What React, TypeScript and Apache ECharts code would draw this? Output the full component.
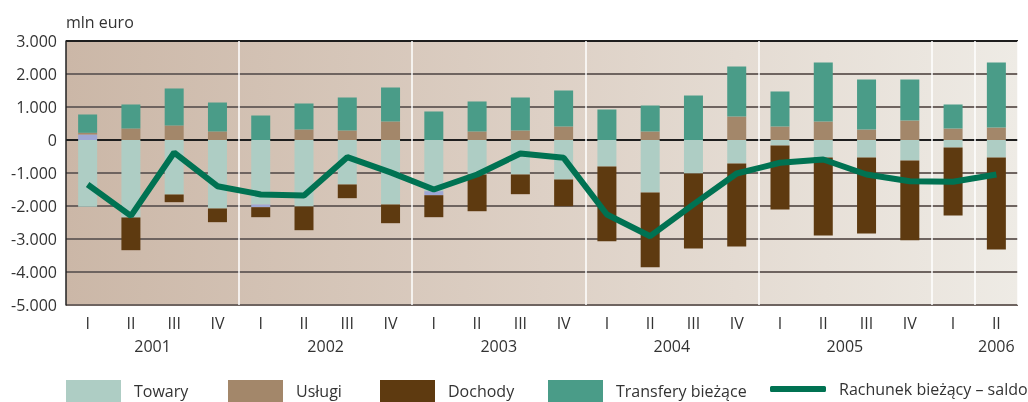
import React, { useEffect, useRef } from "react";
import * as echarts from "echarts";

const quarters = ["I", "II", "III", "IV", "I", "II", "III", "IV", "I", "II", "III", "IV", "I", "II", "III", "IV", "I", "II", "III", "IV", "I", "II"];
const years = ["2001", "2002", "2003", "2004", "2005", "2006"];
const yearPositions = [2, 6, 10, 14, 18, 21.5];
const yearSeparators = [4, 8, 12, 16, 20, 21];

const towary = [-2024, -2348, -1652, -2076, -1955, -2015, -1348, -1955, -1551, -1045, -1045, -1197, -803, -1591, -1015, -712, -167, -530, -530, -621, -227, -530];
const inne = [167, 0, 0, 0, -81, 0, 0, 0, -122, 0, 0, 0, 0, 0, 0, 0, 0, 0, 0, 0, 0, 0];
const uslugi = [51, 348, 439, 258, 0, 318, 288, 561, 0, 258, 288, 409, 0, 258, 0, 712, 409, 561, 318, 591, 348, 379];
const dochody = [0, -991, -232, -414, -303, -718, -415, -566, -666, -1113, -597, -809, -2264, -2264, -2273, -2515, -1939, -2364, -2303, -2415, -2061, -2788];
const transfery = [555, 728, 1122, 878, 742, 788, 1000, 1030, 864, 909, 1000, 1091, 924, 787, 1348, 1515, 1061, 1787, 1515, 1242, 728, 1969];
const saldo = [-1350, -2300, -380, -1400, -1650, -1680, -520, -980, -1500, -1045, -410, -540, -2258, -2915, -1950, -1015, -690, -590, -1045, -1250, -1267, -1045];

const legendNames = ["Towary", "Usługi", "Dochody", "Transfery bieżące", "Rachunek bieżący – saldo"];
const legendLefts = [66, 228, 380, 548, 770];

const FONT = "Open Sans";
const TXT = "#333333";

function fmt(v: number): string {
  const s = Math.abs(v).toString();
  const withDots = s.replace(/\B(?=(\d{3})+(?!\d))/g, ".");
  return (v < 0 ? "-" : "") + withDots;
}

export default function App() {
  const ref = useRef<HTMLDivElement>(null);
  useEffect(() => {
    if (!ref.current) return;
    const chart = echarts.init(ref.current, undefined, { renderer: "svg" });
    const barW = 19;
    chart.setOption({
      animation: false,
      textStyle: { fontFamily: FONT },
      grid: {
        left: 66,
        right: 10,
        top: 41,
        bottom: 97,
        show: true,
        borderWidth: 0,
        backgroundColor: new echarts.graphic.LinearGradient(0, 0, 1, 0, [
          { offset: 0, color: "#cbb7a7" },
          { offset: 0.5, color: "#ddd0c5" },
          { offset: 1, color: "#eeebe5" },
        ]),
      },
      legend: legendNames.map((n, i) => {
        const isLine = i === 4;
        return {
          left: legendLefts[i],
          top: isLine ? 381 : 380,
          itemWidth: isLine ? 56 : 55,
          itemHeight: isLine ? 6 : 22,
          padding: 0,
          textStyle: { fontSize: 16, color: TXT, fontFamily: FONT, padding: isLine ? [0, 0, 0, 8] : [0, 0, 5, 8] },
          data: [{ name: n, icon: isLine ? "roundRect" : "rect" }],
        };
      }),
      xAxis: [
        {
          type: "category",
          data: quarters,
          position: "bottom",
          axisLine: { show: false },
          axisTick: { show: false },
          axisLabel: { fontSize: 16, color: TXT, margin: 10, fontFamily: FONT },
          splitLine: {
            show: true,
            interval: (index: number) => yearSeparators.includes(index),
            lineStyle: { color: "#ffffff", width: 1.5 },
          },
        },
        {
          type: "value",
          min: 0,
          max: 22,
          position: "bottom",
          axisLine: { show: false },
          axisTick: { show: false },
          splitLine: { show: false },
          axisLabel: {
            customValues: yearPositions,
            fontSize: 16,
            color: TXT,
            margin: 33,
            fontFamily: FONT,
            formatter: (v: number) => {
              const i = yearPositions.indexOf(v);
              return i >= 0 ? years[i] : "";
            },
          },
        },
      ],
      yAxis: {
        type: "value",
        min: -5000,
        max: 3000,
        interval: 1000,
        name: "mln euro",
        nameLocation: "end",
        nameGap: 11,
        nameTextStyle: { align: "left", fontSize: 16, color: TXT, fontFamily: FONT, verticalAlign: "bottom" },
        axisLine: { show: true, lineStyle: { color: "#222222", width: 1.5 } },
        axisTick: { show: false },
        axisLabel: { fontSize: 16, color: TXT, margin: 9, fontFamily: FONT, formatter: (v: number) => fmt(v) },
        splitLine: {
          show: true,
          lineStyle: {
            width: 2,
            color: ["#6e6460", "#6e6460", "#6e6460", "#6e6460", "#6e6460", "#1e1e1e", "#6e6460", "#6e6460", "#1e1e1e"],
          },
        },
      },
      series: [
        { name: "Towary", type: "bar", stack: "t", barWidth: barW, data: towary, itemStyle: { color: "#aecdc4" } },
        { name: "Inne", type: "bar", stack: "t", barWidth: barW, data: inne, itemStyle: { color: "#9ea7d4" } },
        { name: "Usługi", type: "bar", stack: "t", barWidth: barW, data: uslugi, itemStyle: { color: "#a3876a" } },
        { name: "Dochody", type: "bar", stack: "t", barWidth: barW, data: dochody, itemStyle: { color: "#5e3a10" } },
        { name: "Transfery bieżące", type: "bar", stack: "t", barWidth: barW, data: transfery, itemStyle: { color: "#4a9c88" } },
        {
          name: "Rachunek bieżący – saldo",
          type: "line",
          data: saldo,
          symbol: "none",
          itemStyle: { color: "#007252" },
          lineStyle: { color: "#007252", width: 6 },
          z: 5,
        },
      ],
    });
    return () => chart.dispose();
  }, []);
  return <div ref={ref} style={{ position: "fixed", left: 0, top: 0, width: 1028, height: 402 }} />;
}
